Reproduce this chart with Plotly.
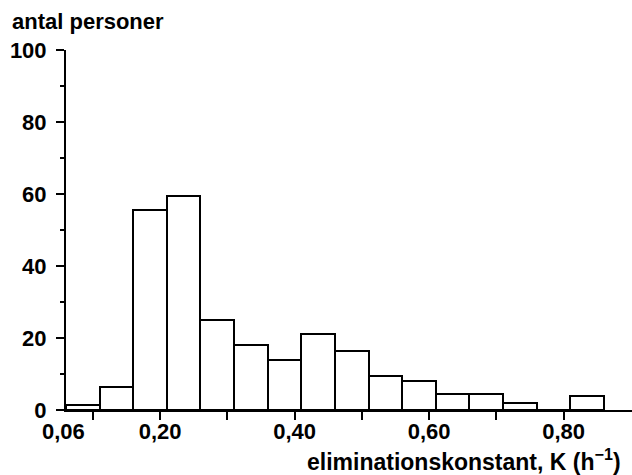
import plotly.graph_objects as go

# histogram bins: left edges, width 0.05
bin_left = [0.06, 0.11, 0.16, 0.21, 0.26, 0.31, 0.36, 0.41, 0.46, 0.51, 0.56, 0.61, 0.66, 0.71, 0.76, 0.81]
bin_width = 0.05
counts = [1.5, 6.5, 55.5, 59.5, 25, 18, 14, 21, 16.5, 9.5, 8, 4.5, 4.5, 2, 0, 4]

x_tickvals = [0.2, 0.4, 0.6, 0.8]
x_ticktext = ["0,20", "0,40", "0,60", "0,80"]
x_minorvals = [0.1, 0.3, 0.5, 0.7]
y_tickvals = [0, 20, 40, 60, 80, 100]
y_ticktext = ["0", "20", "40", "60", "80", "100"]
y_minorvals = [10, 30, 50, 70, 90]

FONT = "Liberation Sans"
FS = 22

centers = [b + bin_width / 2 for b in bin_left]

fig = go.Figure()
fig.add_trace(go.Bar(
    x=centers, y=counts, width=[bin_width] * len(counts),
    marker=dict(color="white", line=dict(color="black", width=2)),
    showlegend=False, hoverinfo="skip",
))

tf = dict(family=FONT, size=FS, color="black", weight="bold")
tf_title = dict(family=FONT, size=23, color="black", weight="bold")

fig.update_layout(
    width=632, height=475,
    margin=dict(l=66, r=0, t=50, b=65, autoexpand=False),
    paper_bgcolor="white", plot_bgcolor="white",
    font=dict(family=FONT, size=FS, color="black"),
    bargap=0,
    xaxis=dict(
        range=[0.06, 0.9017], showgrid=False, zeroline=False, automargin=False,
        showline=True, linecolor="black", linewidth=2,
        tickmode="array", tickvals=x_tickvals, ticktext=x_ticktext,
        ticks="outside", ticklen=8, tickwidth=2, tickcolor="black",
        tickfont=tf, ticklabelstandoff=-7,
        minor=dict(tickvals=x_minorvals, ticks="outside", ticklen=8,
                   tickwidth=2, tickcolor="black", showgrid=False),
    ),
    yaxis=dict(
        range=[0, 100], showgrid=False, zeroline=False, automargin=False,
        showline=True, linecolor="black", linewidth=2,
        tickmode="array", tickvals=y_tickvals, ticktext=y_ticktext,
        ticks="outside", ticklen=8, tickwidth=2, tickcolor="black",
        tickfont=tf, ticklabelstandoff=5,
        minor=dict(tickvals=y_minorvals, ticks="outside", ticklen=4,
                   tickwidth=2, tickcolor="black", showgrid=False),
    ),
    annotations=[
        dict(text="antal personer", xref="paper", yref="paper", x=0, y=1,
             xanchor="left", yanchor="middle", xshift=-56, yshift=29,
             showarrow=False, font=tf),
        dict(text="0,06", xref="x", yref="paper", x=0.06, y=0,
             xanchor="center", yanchor="middle", xshift=-3, yshift=-21,
             showarrow=False, font=tf),
        dict(text="eliminationskonstant, K (h<sup>−1</sup>)", xref="paper", yref="paper",
             x=1, y=0, xanchor="right", yanchor="middle", xshift=-9, yshift=-50,
             showarrow=False, font=tf_title),
    ],
)

fig.write_html(
    "out.html",
    config={"displayModeBar": False},
    post_script="document.body.style.margin='0';document.body.style.overflow='hidden';",
)
